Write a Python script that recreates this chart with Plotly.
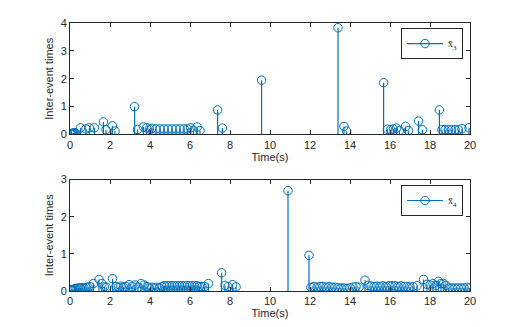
import plotly.graph_objects as go
from plotly.subplots import make_subplots

# inter-event times of x3 (top panel)
t3 = [0.02, 0.05, 0.08, 0.11, 0.14, 0.17, 0.20, 0.24, 0.28,
      0.53, 0.80, 0.97, 1.22, 1.67, 1.80, 2.12, 2.25, 3.23, 3.38, 3.67,
      3.83, 3.97, 4.10, 4.30, 4.50, 4.70, 4.90, 5.10, 5.30, 5.50, 5.70,
      5.87, 6.03, 6.17, 6.35, 6.50, 7.38, 7.62, 9.58, 13.40, 13.70, 13.83,
      15.68, 15.87, 16.03, 16.17, 16.33, 16.47, 16.78, 16.92, 17.43, 17.62,
      18.47, 18.60, 18.75, 18.92, 19.08, 19.25, 19.42, 19.60, 19.95]
v3 = [0.02, 0.03, 0.02, 0.04, 0.03, 0.05, 0.04, 0.06, 0.05,
      0.24, 0.20, 0.24, 0.24, 0.45, 0.17, 0.31, 0.12, 1.00, 0.18, 0.27,
      0.24, 0.20, 0.22, 0.20, 0.20, 0.20, 0.20, 0.20, 0.20, 0.20, 0.20,
      0.20, 0.24, 0.14, 0.27, 0.14, 0.88, 0.23, 1.95, 3.83, 0.29, 0.12,
      1.86, 0.19, 0.17, 0.20, 0.23, 0.14, 0.29, 0.14, 0.48, 0.17,
      0.88, 0.17, 0.17, 0.17, 0.17, 0.17, 0.17, 0.21, 0.24]

# inter-event times of x4 (bottom panel)
t4 = [0.02, 0.06, 0.10, 0.15, 0.20, 0.27, 0.35, 0.43, 0.52, 0.60, 0.70,
      0.80, 0.90, 1.00, 1.17, 1.45, 1.60, 1.72, 1.82, 2.13, 2.30, 2.42,
      2.55, 2.68, 2.80, 2.95, 3.10, 3.25, 3.40, 3.55, 3.70, 3.85, 3.97,
      4.10, 4.22, 4.35, 4.47, 4.60, 4.72, 4.85, 4.97, 5.10, 5.22, 5.35,
      5.47, 5.60, 5.72, 5.85, 5.97, 6.10, 6.22, 6.35, 6.47, 6.60, 6.72,
      6.92, 7.58, 7.75, 7.90, 8.13, 8.30, 10.90, 11.95,
      12.05, 12.20, 12.35, 12.50, 12.65, 12.80, 12.95, 13.10, 13.25, 13.40,
      13.55, 13.70, 13.85, 14.00, 14.15, 14.30, 14.45, 14.75, 14.90, 15.05,
      15.20, 15.35, 15.50, 15.65, 15.80, 15.95, 16.10, 16.25, 16.40, 16.55,
      16.70, 16.85, 17.00, 17.15, 17.35, 17.68, 17.85, 18.00, 18.15, 18.30,
      18.42, 18.55, 18.67, 18.80, 18.95, 19.10, 19.25, 19.40, 19.55, 19.70,
      19.85, 19.97]
v4 = [0.02, 0.03, 0.03, 0.04, 0.05, 0.06, 0.07, 0.08, 0.08, 0.09, 0.08,
      0.09, 0.10, 0.12, 0.20, 0.31, 0.20, 0.11, 0.10, 0.33, 0.12, 0.10,
      0.13, 0.10, 0.12, 0.17, 0.12, 0.16, 0.10, 0.20, 0.16, 0.12, 0.08,
      0.10, 0.08, 0.10, 0.08, 0.12, 0.14, 0.14, 0.14, 0.14, 0.14, 0.14,
      0.14, 0.14, 0.14, 0.14, 0.14, 0.14, 0.14, 0.14, 0.12, 0.12, 0.12,
      0.20, 0.49, 0.15, 0.12, 0.17, 0.11, 2.70, 0.96,
      0.10, 0.12, 0.10, 0.12, 0.12, 0.10, 0.12, 0.10, 0.10, 0.08,
      0.08, 0.08, 0.07, 0.08, 0.10, 0.12, 0.10, 0.29, 0.15, 0.13,
      0.12, 0.13, 0.12, 0.14, 0.12, 0.14, 0.14, 0.14, 0.12, 0.14,
      0.12, 0.12, 0.10, 0.12, 0.14, 0.31, 0.18, 0.16, 0.20, 0.15,
      0.26, 0.20, 0.20, 0.15, 0.08, 0.08, 0.08, 0.08, 0.08, 0.08,
      0.10, 0.08]

blue = '#0072BD'
font = 'Liberation Sans, Arial, sans-serif'

fig = make_subplots(rows=2, cols=1, vertical_spacing=0.168)

panels = [(t3, v3, 'x\u0304<sub>3</sub>', 'legend', 1, 4),
          (t4, v4, 'x\u0304<sub>4</sub>', 'legend2', 2, 3)]

for t, v, name, leg, row, ymax in panels:
    # stems + open circles
    fig.add_trace(go.Scatter(
        x=t, y=v, mode='markers', showlegend=False,
        marker=dict(symbol='circle-open', size=8.5, color=blue,
                    line=dict(width=1, color=blue)),
        error_y=dict(type='data', symmetric=False, array=[0] * len(v),
                     arrayminus=v, width=0, thickness=1.2, color=blue),
    ), row=row, col=1)
    # legend entry
    fig.add_trace(go.Scatter(
        x=[None], y=[None], mode='lines+markers', name=name, legend=leg,
        line=dict(color=blue, width=1.2),
        marker=dict(symbol='circle-open', size=8.5, color=blue),
    ), row=row, col=1)
    fig.update_yaxes(range=[0, ymax], dtick=1, row=row, col=1)

axis_style = dict(showgrid=False, zeroline=False, showline=True, mirror='ticks',
                  linecolor='#262626', linewidth=1, ticks='inside', ticklen=4,
                  tickcolor='#262626', automargin=False,
                  tickfont=dict(size=11, color='#262626', family=font))

fig.update_xaxes(range=[0, 20], dtick=2, title=dict(text='Time(s)', standoff=2,
                 font=dict(size=11, color='#262626', family=font)), **axis_style)
fig.update_yaxes(title=dict(text='Inter-event times', standoff=4,
                 font=dict(size=11, color='#262626', family=font)), **axis_style)

leg_style = dict(xanchor='right', yanchor='top', bgcolor='white',
                 bordercolor='#262626', borderwidth=1,
                 font=dict(size=10, family='Liberation Serif, serif', color='#262626'),
                 itemwidth=36, tracegroupgap=0)

# page body has an 8px margin, so the figure is 8px smaller than the window
fig.update_layout(
    width=510, height=319,
    margin=dict(l=62, r=48, t=15, b=36),
    paper_bgcolor='white', plot_bgcolor='white',
    font=dict(family=font, size=11, color='#262626'),
    legend=dict(x=0.9825, y=0.981, **leg_style),
    legend2=dict(x=0.9825, y=0.3955, **leg_style),
)

fig.write_html("out.html")
